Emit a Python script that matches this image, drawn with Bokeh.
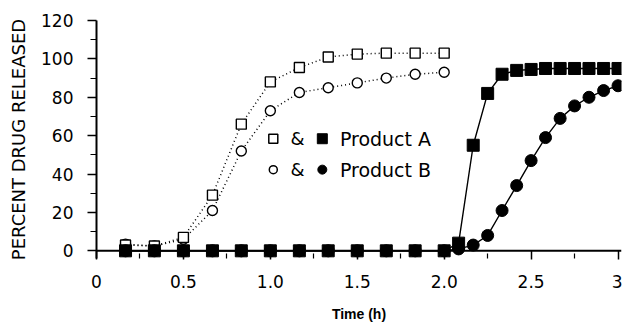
from bokeh.plotting import figure
from bokeh.models import FixedTicker, Range1d, Label, Span
from bokeh.embed import file_html
from bokeh.resources import INLINE

# ---- data ----
time_open = [0.167, 0.333, 0.5, 0.667, 0.833, 1.0, 1.167, 1.333, 1.5, 1.667, 1.833, 2.0]
prod_a_open = [3, 2.5, 7, 29, 66, 88, 95.5, 101, 102.5, 103, 103, 103]
prod_b_open = [3.5, 2.5, 6, 21, 52, 73, 82.5, 85, 87.5, 90, 92, 93]

time_fill = [0.167, 0.333, 0.5, 0.667, 0.833, 1.0, 1.167, 1.333, 1.5, 1.667, 1.833, 2.0,
             2.083, 2.167, 2.25, 2.333, 2.417, 2.5, 2.583, 2.667, 2.75, 2.833, 2.917, 3.0]
prod_a_fill = [0, 0, 0, 0, 0, 0, 0, 0, 0, 0, 0, 0,
               4, 55, 82, 92, 94, 94.5, 95, 95, 95, 95, 95, 95]
prod_b_fill = [0, 0, 0, 0, 0, 0, 0, 0, 0, 0, 0, 0,
               1, 3, 8, 21, 34, 47, 59, 69, 75.5, 80, 83.5, 86]

x_ticks = [0, 0.5, 1.0, 1.5, 2.0, 2.5, 3.0]
x_tick_labels = ["0", "0.5", "1.0", "1.5", "2.0", "2.5", "3"]
x_minor_ticks = [0.25, 0.75, 1.25, 1.75, 2.25, 2.75]
y_ticks = [0, 20, 40, 60, 80, 100, 120]
y_minor_ticks = [10, 30, 50, 70, 90, 110]

series_a_label = "Product A"
series_b_label = "Product B"
x_title = "Time (h)"
y_title = "PERCENT DRUG RELEASED"

FONT = "DejaVu Sans"

p = figure(width=622, height=325,
           x_range=Range1d(0, 3.02), y_range=Range1d(-4, 120),
           output_backend="svg", toolbar_location=None,
           min_border_left=96, min_border_right=1,
           min_border_top=20, min_border_bottom=67)
p.outline_line_color = None
p.xgrid.visible = False
p.ygrid.visible = False
p.background_fill_color = "white"
p.border_fill_color = "white"

# x axis: ticks reach up to the y = 0 line, which is drawn as a span
xa = p.xaxis[0]
xa.ticker = FixedTicker(ticks=x_ticks, minor_ticks=x_minor_ticks)
xa.major_label_overrides = {t: s for t, s in zip(x_ticks, x_tick_labels)}
xa.axis_line_color = None
xa.major_tick_line_width = 1.5
xa.major_tick_out = 1
xa.major_tick_in = 8
xa.minor_tick_out = 0
xa.minor_tick_in = 5
xa.minor_tick_line_width = 1.2
xa.major_label_standoff = 15
xa.major_label_text_font = FONT
xa.major_label_text_font_size = "17px"
xa.major_label_text_color = "black"
xa.axis_label = x_title
xa.axis_label_text_font = "Liberation Sans"
xa.axis_label_text_font_size = "14px"
xa.axis_label_text_font_style = "bold"
xa.axis_label_text_color = "black"
xa.axis_label_standoff = 15

p.add_layout(Span(location=0, dimension="width", line_color="black", line_width=2))

ya = p.yaxis[0]
ya.ticker = FixedTicker(ticks=y_ticks, minor_ticks=y_minor_ticks)
ya.axis_line_width = 2
ya.axis_line_color = "black"
ya.major_tick_line_width = 1.5
ya.major_tick_out = 9
ya.major_tick_in = 0
ya.minor_tick_out = 6
ya.minor_tick_in = 0
ya.minor_tick_line_width = 1.2
ya.major_label_standoff = 14
ya.major_label_text_font = FONT
ya.major_label_text_font_size = "17px"
ya.major_label_text_color = "black"
ya.axis_label = y_title
ya.axis_label_text_font = FONT
ya.axis_label_text_font_size = "18px"
ya.axis_label_text_font_style = "normal"
ya.axis_label_text_color = "black"
ya.axis_label_standoff = 9

# lines
p.line(time_open, prod_a_open, line_color="black", line_width=1.5, line_dash="1 3")
p.line(time_open, prod_b_open, line_color="black", line_width=1.5, line_dash="1 3")
p.line(time_fill, prod_a_fill, line_color="black", line_width=1.4)
p.line(time_fill, prod_b_fill, line_color="black", line_width=1.4)

# markers
p.scatter(time_open, prod_b_open, marker="circle", size=10, fill_color="white",
          line_color="black", line_width=1.4)
p.scatter(time_open, prod_a_open, marker="square", size=10, fill_color="white",
          line_color="black", line_width=1.4)
p.scatter(time_fill, prod_a_fill, marker="square", size=12, fill_color="black",
          line_color="black")
p.scatter(time_fill, prod_b_fill, marker="circle", size=12, fill_color="black",
          line_color="black")

# in-plot key
key_rows = [58.4, 42.3]
p.scatter([1.017], [key_rows[0]], marker="square", size=9, fill_color="white",
          line_color="black", line_width=1.5)
p.scatter([1.299], [key_rows[0]], marker="square", size=10, fill_color="black",
          line_color="black")
p.scatter([1.017], [key_rows[1]], marker="circle", size=8, fill_color="white",
          line_color="black", line_width=1.5)
p.scatter([1.299], [key_rows[1]], marker="circle", size=9, fill_color="black",
          line_color="black")
for yk, lab in zip(key_rows, [series_a_label, series_b_label]):
    p.add_layout(Label(x=1.157, y=yk, text="&", text_font=FONT,
                       text_font_size="18px", text_align="center",
                       text_baseline="middle", text_color="black"))
    p.add_layout(Label(x=1.40, y=yk, text=lab, text_font=FONT,
                       text_font_size="19px", text_align="left",
                       text_baseline="middle", text_color="black"))

open("out.html", "w").write(file_html(p, INLINE))
